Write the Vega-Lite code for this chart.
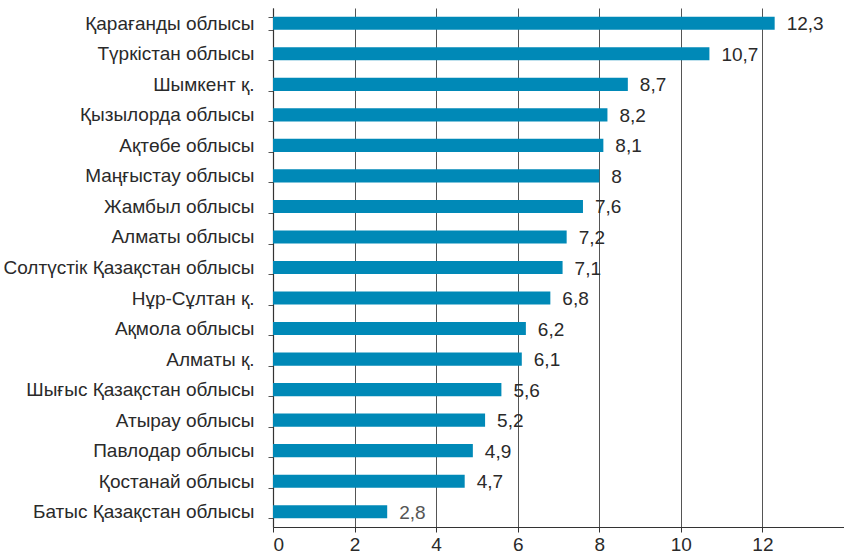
{
  "$schema": "https://vega.github.io/schema/vega-lite/v6.json",
  "width": 571,
  "height": 519,
  "autosize": {"type": "none"},
  "padding": {"left": 273, "top": 8, "right": 0, "bottom": 31},
  "background": "white",
  "config": {
    "view": {"stroke": null},
    "font": "Liberation Sans"
  },
  "data": {
    "values": [
      {"region": "Қарағанды облысы", "value": 12.3, "label": "12,3"},
      {"region": "Түркістан облысы", "value": 10.7, "label": "10,7"},
      {"region": "Шымкент қ.", "value": 8.7, "label": "8,7"},
      {"region": "Қызылорда облысы", "value": 8.2, "label": "8,2"},
      {"region": "Ақтөбе облысы", "value": 8.1, "label": "8,1"},
      {"region": "Маңғыстау облысы", "value": 8.0, "label": "8"},
      {"region": "Жамбыл облысы", "value": 7.6, "label": "7,6"},
      {"region": "Алматы облысы", "value": 7.2, "label": "7,2"},
      {"region": "Солтүстік Қазақстан облысы", "value": 7.1, "label": "7,1"},
      {"region": "Нұр-Сұлтан қ.", "value": 6.8, "label": "6,8"},
      {"region": "Ақмола облысы", "value": 6.2, "label": "6,2"},
      {"region": "Алматы қ.", "value": 6.1, "label": "6,1"},
      {"region": "Шығыс Қазақстан облысы", "value": 5.6, "label": "5,6"},
      {"region": "Атырау облысы", "value": 5.2, "label": "5,2"},
      {"region": "Павлодар облысы", "value": 4.9, "label": "4,9"},
      {"region": "Қостанай облысы", "value": 4.7, "label": "4,7"},
      {"region": "Батыс Қазақстан облысы", "value": 2.8, "label": "2,8"}
    ]
  },
  "encoding": {
    "y": {
      "field": "region",
      "type": "nominal",
      "sort": {"field": "value", "order": "descending"},
      "scale": {"paddingInner": 0.57, "paddingOuter": 0.285},
      "axis": {
        "title": null,
        "domainColor": "#333333",
        "domainWidth": 1.2,
        "tickBand": "extent",
        "tickColor": "#555555",
        "tickSize": 5,
        "labelFont": "Liberation Sans",
        "labelFontSize": 19,
        "labelColor": "#2a2a2a",
        "labelPadding": 14,
        "labelLimit": 300
      }
    }
  },
  "layer": [
    {
      "mark": {"type": "bar", "color": "#0089b7", "cornerRadius": 0},
      "encoding": {
        "x": {
          "field": "value",
          "type": "quantitative",
          "scale": {"domain": [0, 14], "nice": false},
          "axis": {
            "title": null,
            "values": [0, 2, 4, 6, 8, 10, 12],
            "grid": true,
            "gridColor": "#555555",
            "gridWidth": 1,
            "domainColor": "#333333",
            "domainWidth": 1.2,
            "tickColor": "#333333",
            "tickSize": 5,
            "labelFont": "Liberation Sans",
            "labelFontSize": 19,
            "labelColor": "#2a2a2a",
            "labelPadding": 3
          }
        }
      }
    },
    {
      "mark": {"type": "text", "align": "left", "baseline": "middle", "dx": 12, "dy": 1, "fontSize": 19, "font": "Liberation Sans"},
      "encoding": {
        "x": {"field": "value", "type": "quantitative"},
        "text": {"field": "label"},
        "color": {
          "condition": {"test": "datum.value < 3", "value": "#555555"},
          "value": "#2a2a2a"
        }
      }
    }
  ]
}
